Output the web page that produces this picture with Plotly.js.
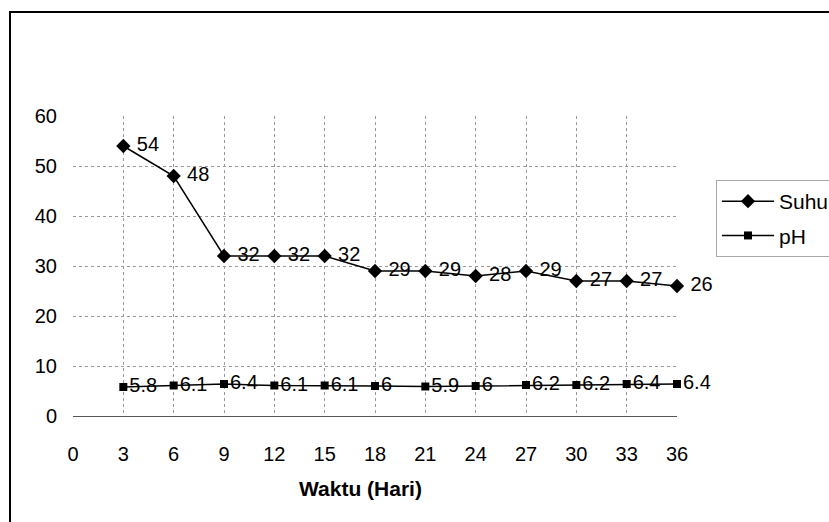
<!DOCTYPE html>
<html>
<head>
<meta charset="utf-8">
<script src="https://cdn.plot.ly/plotly-3.0.1.min.js"></script>
<style>
  body { margin: 0; background: #fff; }
  #plot { width: 829px; height: 522px; }
</style>
</head>
<body>
<div id="plot"></div>
<script>
// days of observation
var hari = [3, 6, 9, 12, 15, 18, 21, 24, 27, 30, 33, 36];
// temperature and pH readings
var suhu = [54, 48, 32, 32, 32, 29, 29, 28, 29, 27, 27, 26];
var ph = [5.8, 6.1, 6.4, 6.1, 6.1, 6, 5.9, 6, 6.2, 6.2, 6.4, 6.4];
var xTicks = [0, 3, 6, 9, 12, 15, 18, 21, 24, 27, 30, 33, 36];
var yTicks = [0, 10, 20, 30, 40, 50, 60];

var font = 'Liberation Sans, Arial, sans-serif';

var traceSuhu = {
    x: hari,
    y: suhu,
    name: 'Suhu',
    legendgroup: 's',
    mode: 'lines+markers+text',
    type: 'scatter',
    text: suhu.map(v => '\u00a0' + v),
    textposition: 'middle right',
    textfont: {family: font, size: 20, color: '#000'},
    line: {color: '#000', width: 1.5},
    marker: {symbol: 'diamond', size: 11, color: '#000'},
    cliponaxis: false
};

var tracePh = {
    x: hari,
    y: ph,
    name: 'pH',
    legendgroup: 'p',
    mode: 'lines+markers+text',
    type: 'scatter',
    text: ph.map(String),
    textposition: 'middle right',
    textfont: {family: font, size: 20, color: '#000'},
    line: {color: '#000', width: 1.5},
    marker: {symbol: 'square', size: 8, color: '#000'},
    cliponaxis: false
};

var layout = {
    width: 829,
    height: 522,
    margin: {l: 73, r: 152, t: 116, b: 106, autoexpand: false},
    paper_bgcolor: '#fff',
    plot_bgcolor: '#fff',
    font: {family: font, size: 20, color: '#000'},
    showlegend: true,
    legend: {
        x: (716 - 73) / 604, y: (416 - 180) / 300, xanchor: 'left', yanchor: 'top',
        font: {family: font, size: 21, color: '#000'},
        bordercolor: '#aaa', borderwidth: 1,
        bgcolor: 'rgba(0,0,0,0)',
        itemwidth: 52,
        tracegroupgap: 4
    },
    xaxis: {
        range: [0, 36],
        tickvals: xTicks,
        ticktext: xTicks.map(String),
        showgrid: true,
        gridcolor: '#999',
        griddash: 'dot',
        gridwidth: 1,
        zeroline: false,
        showline: true,
        linecolor: '#555',
        linewidth: 1,
        ticks: '',
        ticklabelstandoff: 20,
        fixedrange: true
    },
    yaxis: {
        range: [0, 60],
        tickvals: yTicks,
        ticktext: yTicks.map(String),
        showgrid: true,
        gridcolor: '#999',
        griddash: 'dot',
        gridwidth: 1,
        zeroline: false,
        showline: false,
        ticks: '',
        ticklabelstandoff: 15,
        fixedrange: true
    },
    annotations: [{
        text: '<b>Waktu (Hari)</b>',
        xref: 'paper', yref: 'paper',
        x: (360 - 73) / 604, y: -(488 - 416) / 300,
        xanchor: 'center', yanchor: 'middle',
        showarrow: false,
        font: {family: font, size: 21, color: '#000'}
    }],
    shapes: [{
        type: 'rect',
        xref: 'paper', yref: 'paper',
        x0: (10 - 73) / 604, x1: 1.5,
        y0: -0.6, y1: (416 - 12) / 300,
        line: {color: '#000', width: 2}
    }]
};

Plotly.newPlot('plot', [traceSuhu, tracePh], layout, {displayModeBar: false, staticPlot: true});
</script>
</body>
</html>
